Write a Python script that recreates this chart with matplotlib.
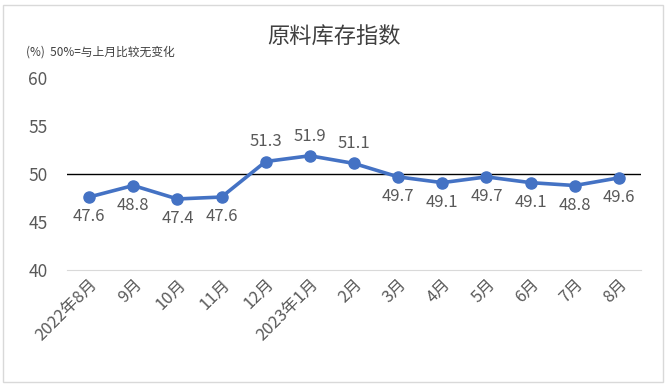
import matplotlib
matplotlib.use("Agg")
import matplotlib.pyplot as plt
from matplotlib.patches import Rectangle

plt.rcParams['font.family'] = ['Noto Sans CJK SC', 'DejaVu Sans']

# data
months = ['2022年8月', '9月', '10月', '11月', '12月', '2023年1月', '2月',
          '3月', '4月', '5月', '6月', '7月', '8月']
values = [47.6, 48.8, 47.4, 47.6, 51.3, 51.9, 51.1,
          49.7, 49.1, 49.7, 49.1, 48.8, 49.6]
yticks = [40, 45, 50, 55, 60]

blue = '#4472C4'
grey = '#595959'

fig = plt.figure(figsize=(6.68, 3.85), dpi=100)
ax = fig.add_axes([67/668, 1 - 270/385, (641 - 67)/668, (270 - 78)/385])

x = list(range(len(months)))
ax.plot(x, values, color=blue, lw=2.6, marker='o', ms=8, zorder=3)

# 50 = no change reference line
ax.axhline(50, color='black', lw=1, zorder=2)

for i, v in enumerate(values):
    if v > 50:
        ax.annotate(f'{v}', (i, v), xytext=(0, 8), textcoords='offset points',
                    ha='center', va='bottom', fontsize=12, color=grey)
    else:
        ax.annotate(f'{v}', (i, v), xytext=(0, -8), textcoords='offset points',
                    ha='center', va='top', fontsize=12, color=grey)

ax.set_xlim(-0.5, len(months) - 0.5)
ax.set_ylim(40, 60)
ax.set_yticks(yticks)
ax.set_xticks(x)
ax.set_xticklabels(months, rotation=45, ha='right', rotation_mode='anchor',
                   fontsize=12, color=grey)
ax.tick_params(axis='y', labelsize=12.5, labelcolor=grey, length=0, pad=14)
ax.tick_params(axis='x', length=0, pad=4)

for s in ['top', 'right', 'left']:
    ax.spines[s].set_visible(False)
ax.spines['bottom'].set_color('#D9D9D9')

fig.text(0.5, 1 - 36/385, '原料库存指数', ha='center', va='center',
         fontsize=16, color='#404040')
fig.text(26/668, 1 - 52/385, '(%)  50%=与上月比较无变化', ha='left', va='center',
         fontsize=8.5, color='#404040')

fig.patches.append(Rectangle((3/668, 3/385), 660/668, 377/385, transform=fig.transFigure,
                             fill=False, edgecolor='#D9D9D9', lw=1))

fig.savefig('out.png', dpi=100)
